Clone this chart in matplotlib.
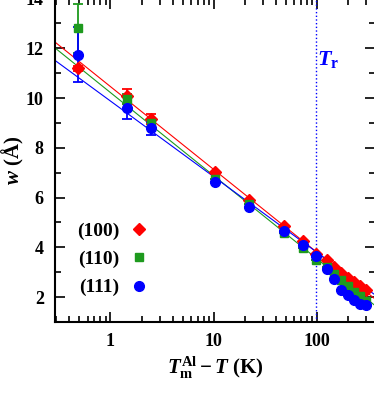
import numpy as np
import matplotlib
matplotlib.use('Agg')
import matplotlib.pyplot as plt

plt.rcParams['font.family'] = 'Liberation Serif'
plt.rcParams['font.weight'] = 'bold'
plt.rcParams['axes.labelweight'] = 'bold'
plt.rcParams['mathtext.fontset'] = 'custom'
plt.rcParams['mathtext.rm'] = 'Liberation Serif:bold'
plt.rcParams['mathtext.it'] = 'Liberation Serif:italic:bold'
plt.rcParams['mathtext.bf'] = 'Liberation Serif:bold'

# undercooling T_m - T (K)
dT = [0.48, 1.46, 2.45, 10.4, 21.8, 47.7, 73, 97, 125, 147, 172, 200, 230, 262, 300]

w_100 = [11.2, 10.07, 9.15, 7.03, 5.92, 4.84, 4.25, 3.75, 3.49, 3.2, 2.98, 2.78, 2.6, 2.43, 2.3]
w_110 = [12.8, 9.95, 9.0, 6.76, 5.76, 4.59, 3.96, 3.5, 3.2, 2.94, 2.67, 2.43, 2.22, 2.04, 1.86]
w_111 = [11.75, 9.62, 8.78, 6.64, 5.62, 4.64, 4.09, 3.65, 3.14, 2.72, 2.3, 2.07, 1.9, 1.74, 1.68]

err_100 = [0.1, 0.3, 0.2] + [0] * 12
err_110 = [1.0, 0.2, 0.15] + [0] * 12
err_111 = [1.1, 0.45, 0.25] + [0] * 12

# fitted lines w = a - b*log10(dT)
fit_100 = (10.46, 3.33)
fit_110 = (10.22, 3.34)
fit_111 = (9.88, 3.04)

T_r = 97

fig = plt.figure(figsize=(3.74, 4.19), dpi=100)
ax = fig.add_axes([0.147, 0.2315, 0.856, 0.772])

xf = np.logspace(np.log10(0.29), np.log10(370), 50)
series = [
    ('(100)', w_100, err_100, fit_100, 'red', 'D', 6),
    ('(110)', w_110, err_110, fit_110, '#1e9a1e', 's', 6),
    ('(111)', w_111, err_111, fit_111, 'blue', 'o', 7),
]
for lab, w, e, (a, b), c, m, ms in series:
    ax.plot(xf, a - b * np.log10(xf), color=c, lw=0.8)
    ax.errorbar(dT, w, yerr=e, fmt=m, color=c, ms=ms, capsize=3.5,
                elinewidth=1.3, capthick=1.3, label=lab, zorder=3)

ax.axvline(T_r, color='blue', ls=':', lw=1)
ax.text(T_r * 1.04, 11.55, r'$T_{\rm r}$', color='blue', fontsize=16,
        fontweight='bold', va='center')

ax.set_xscale('log')
ax.set_xlim(0.29, 366)
ax.set_ylim(1.29, 14.0)
ax.set_yticks([2, 4, 6, 8, 10, 12, 14])
ax.set_yticks(np.arange(1, 14, 2), minor=True)
ax.set_xticks([1, 10, 100])
ax.set_xticklabels(['1', '10', '100'])
ax.tick_params(which='both', direction='in', top=True, right=True, labelsize=13)
ax.tick_params(which='major', length=7, width=1.2, pad=8)
ax.tick_params(which='minor', length=4, width=1.2)
for s in ax.spines.values():
    s.set_linewidth(1.5)

ax.set_xlabel(r'$T^{\rm Al}_{\rm m} - T$ (K)', fontsize=15, labelpad=3)
ax.set_ylabel(r'$w$ (Å)', fontsize=15, labelpad=0)

handles, labels = ax.get_legend_handles_labels()
handles = [h[0] for h in handles]
ax.legend(handles, labels, loc='lower left', bbox_to_anchor=(0.015, 0.025), frameon=False,
          markerfirst=False, fontsize=14, handlelength=0.8, handletextpad=0.6,
          labelspacing=0.55)

fig.savefig('out.png', dpi=100)
